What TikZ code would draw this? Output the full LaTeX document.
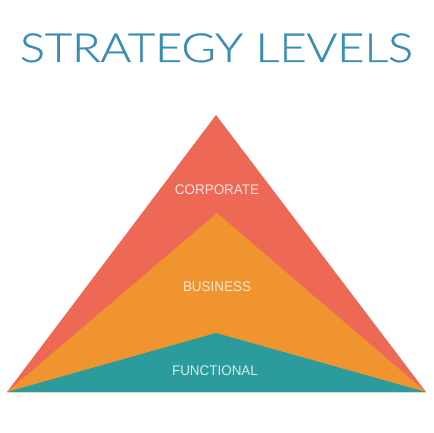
\documentclass[tikz,border=0pt]{standalone}
\usepackage{fontspec}
\setmainfont{Liberation Sans}
\newfontfamily\titlefont{Lato Light}[FakeBold=0.8]
\definecolor{redc}{HTML}{EE6856}
\definecolor{orangec}{HTML}{F09430}
\definecolor{tealc}{HTML}{2C9B9B}
\definecolor{titlec}{HTML}{3A8DB3}
\begin{document}
\begin{tikzpicture}[x=1pt,y=-1pt,
  lbl/.style={text=white,text opacity=0.8,font=\fontsize{14}{14}\selectfont,inner sep=0pt,anchor=base,xscale=0.96}]
\useasboundingbox[fill=white] (0,0) rectangle (433,433);
\node[text=titlec,font=\titlefont\fontsize{40}{40}\selectfont,inner sep=0pt,anchor=base,xscale=1.17] (title) at (216.5,62) {STRATEGY LEVELS};
\coordinate (L) at (7,392);
\coordinate (R) at (426,392);
\coordinate (A1) at (216,115);
\coordinate (A2) at (217,213);
\coordinate (A3) at (216,333);
\fill[redc] (L) -- (A1) -- (R) -- cycle;
\fill[orangec] (L) -- (A2) -- (R) -- cycle;
\fill[tealc] (L) -- (A3) -- (R) -- cycle;
\node[lbl] (corp) at (217,194) {CORPORATE};
\node[lbl] (bus) at (217,291) {BUSINESS};
\node[lbl] (func) at (215,375) {FUNCTIONAL};
\end{tikzpicture}
\end{document}
